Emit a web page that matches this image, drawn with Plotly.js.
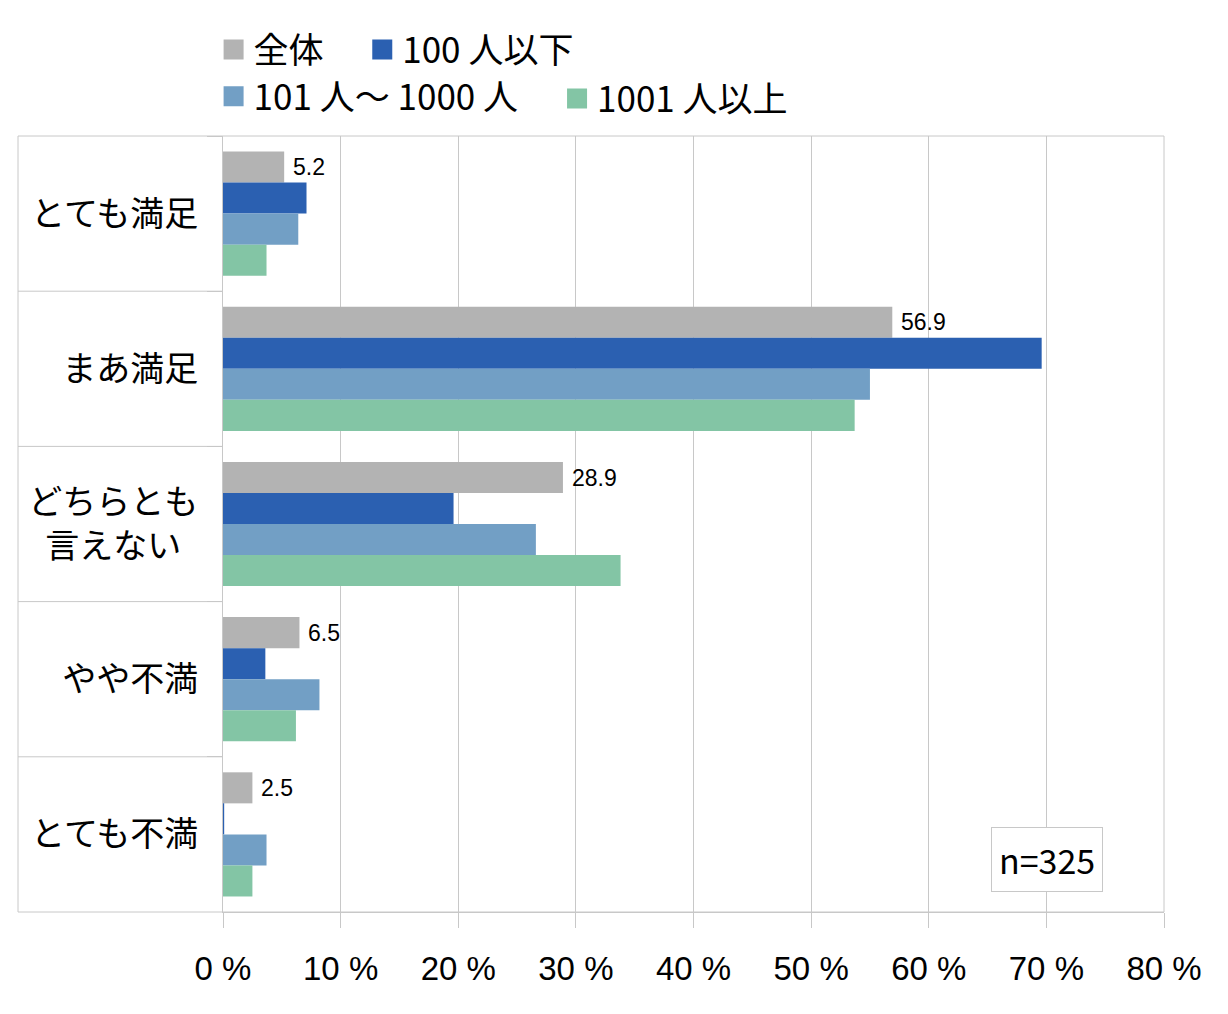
<!DOCTYPE html>
<html>
<head>
<meta charset="utf-8">
<script src="https://cdn.plot.ly/plotly-3.0.1.min.js"></script>
<style>
  html, body { margin: 0; padding: 0; background: #fff; }
  #chart { width: 1228px; height: 1014px; }
</style>
</head>
<body>
<div id="chart"></div>
<script>
var categories = ['とても満足', 'まあ満足', 'どちらとも<br>言えない\u2002', 'やや不満', 'とても不満'];
var seriesNames = ['全体', '100 人以下', '101 人〜 1000 人', '1001 人以上'];
var valuesAll = [5.2, 56.9, 28.9, 6.5, 2.5];
var valuesSmall = [7.1, 69.6, 19.6, 3.6, 0.1];
var valuesMid = [6.4, 55.0, 26.6, 8.2, 3.7];
var valuesLarge = [3.7, 53.7, 33.8, 6.2, 2.5];
var xTicks = [0, 10, 20, 30, 40, 50, 60, 70, 80];
var sampleNote = 'n=325';

var colors = ['#b3b3b3', '#2b60b1', '#729fc5', '#83c5a5'];
var seriesValues = [valuesAll, valuesSmall, valuesMid, valuesLarge];

var gridColor = '#c8c8c8';
var jpFont = '"Noto Sans CJK JP", "Noto Sans", sans-serif';
var latinFont = '"Liberation Sans", Arial, sans-serif';

// one legend per series so each entry can sit where the original puts it
var legendIds = ['legend', 'legend2', 'legend3', 'legend4'];
var legendSpots = [[-0.01, 1.111], [0.148, 1.111], [-0.01, 1.051], [0.355, 1.048]];

var data = seriesValues.map(function(vals, i) {
  return {
    type: 'bar',
    orientation: 'h',
    name: seriesNames[i],
    x: vals,
    y: categories,
    legend: legendIds[i],
    marker: { color: colors[i], line: { width: 0 } },
    hoverinfo: 'x+name'
  };
});

// value labels on the 全体 bars only
var annotations = valuesAll.map(function(v, i) {
  return {
    x: v,
    y: categories[i],
    xref: 'x',
    yref: 'y',
    text: v.toFixed(1),
    showarrow: false,
    xanchor: 'left',
    xshift: 7,
    yshift: 46.5,
    font: { family: latinFont, size: 23, color: '#000' }
  };
});

annotations.push({
  xref: 'paper',
  yref: 'paper',
  x: 0.876,
  y: 0.068,
  xanchor: 'center',
  yanchor: 'middle',
  text: sampleNote,
  showarrow: false,
  bgcolor: '#ffffff',
  bordercolor: gridColor,
  borderwidth: 1,
  borderpad: 7,
  font: { family: jpFont, size: 34, color: '#000' }
});

// table lines round the category labels
var leftEdge = -205 / 941;
var shapes = [{
  type: 'rect',
  xref: 'paper', yref: 'paper',
  x0: leftEdge, x1: 1, y0: 0, y1: 1,
  line: { color: gridColor, width: 1 },
  layer: 'above'
}];
for (var k = 1; k < categories.length; k++) {
  shapes.push({
    type: 'line',
    xref: 'paper', yref: 'y',
    x0: leftEdge, x1: 0, y0: k - 0.5, y1: k - 0.5,
    line: { color: gridColor, width: 1 }
  });
}

var layout = {
  width: 1228,
  height: 1014,
  margin: { l: 223, r: 64, t: 136, b: 102 },
  paper_bgcolor: '#ffffff',
  plot_bgcolor: '#ffffff',
  barmode: 'group',
  bargap: 0.2,
  bargroupgap: 0,
  showlegend: true,
  xaxis: {
    range: [0, 80],
    tickmode: 'array',
    tickvals: xTicks,
    ticktext: xTicks.map(function(t) { return t + ' %'; }),
    showgrid: true,
    gridcolor: gridColor,
    gridwidth: 1,
    zeroline: false,
    ticks: 'outside',
    ticklen: 15,
    tickcolor: gridColor,
    ticklabelstandoff: 12,
    showline: true,
    linecolor: gridColor,
    fixedrange: true,
    tickfont: { family: latinFont, size: 33, color: '#000' }
  },
  yaxis: {
    type: 'category',
    autorange: 'reversed',
    showgrid: false,
    zeroline: false,
    ticks: 'outside',
    tickson: 'boundaries',
    ticklen: 15,
    tickcolor: gridColor,
    ticklabelstandoff: 17,
    showline: true,
    linecolor: gridColor,
    fixedrange: true,
    tickfont: { family: jpFont, size: 34, color: '#000' }
  },
  annotations: annotations,
  shapes: shapes
};

legendIds.forEach(function(id, i) {
  layout[id] = {
    orientation: 'h',
    x: legendSpots[i][0],
    xanchor: 'left',
    y: legendSpots[i][1],
    yanchor: 'middle',
    font: { family: jpFont, size: 35, color: '#000' },
    bgcolor: 'rgba(0,0,0,0)'
  };
});

Plotly.newPlot('chart', data, layout, { displayModeBar: false, staticPlot: true }).then(function(gd) {
  // bigger legend squares, like the original
  var pts = gd.querySelectorAll('.legendpoints path');
  pts.forEach(function(p) { p.setAttribute('d', 'M10,10H-10V-10H10Z'); });
});
</script>
</body>
</html>
